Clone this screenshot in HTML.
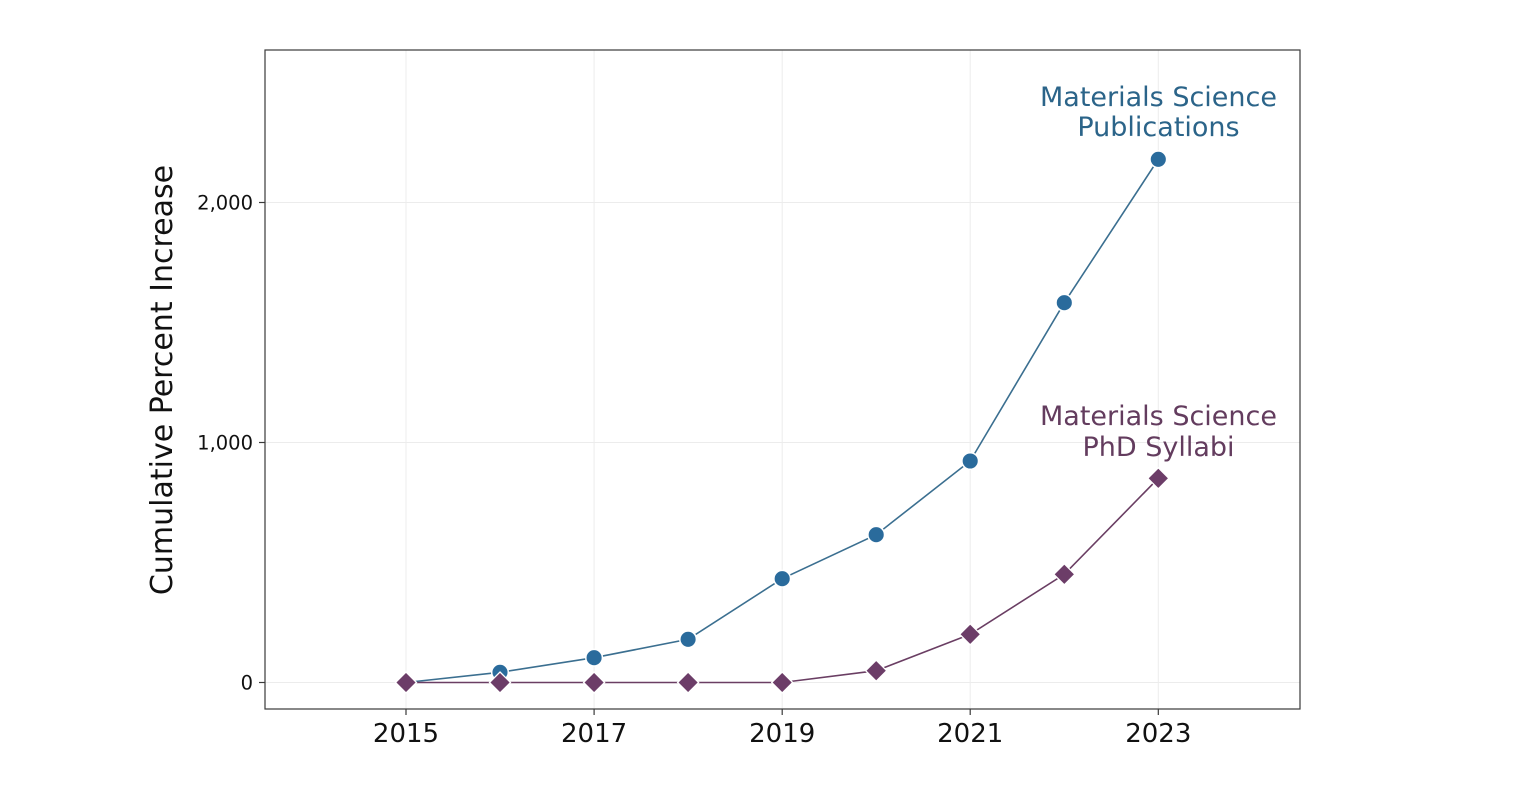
<!DOCTYPE html>
<html><head><meta charset="utf-8"><style>
html,body{margin:0;padding:0;background:#fff;}
svg{display:block;font-family:"DejaVu Sans","Liberation Sans",sans-serif;}
</style></head><body>
<svg width="1538" height="790" viewBox="0 0 1538 790" xmlns="http://www.w3.org/2000/svg">
<rect width="1538" height="790" fill="#fff"/>
<!-- grid -->
<g stroke="#ececec" stroke-width="1">
<line x1="406" y1="50" x2="406" y2="709"/>
<line x1="594.1" y1="50" x2="594.1" y2="709"/>
<line x1="782.2" y1="50" x2="782.2" y2="709"/>
<line x1="970.2" y1="50" x2="970.2" y2="709"/>
<line x1="1158.3" y1="50" x2="1158.3" y2="709"/>
<line x1="265" y1="682.5" x2="1300" y2="682.5"/>
<line x1="265" y1="442.5" x2="1300" y2="442.5"/>
<line x1="265" y1="202.5" x2="1300" y2="202.5"/>
</g>
<!-- axes box -->
<rect x="265" y="50" width="1035" height="659" fill="none" stroke="#3a3a3a" stroke-width="1.2"/>
<!-- ticks -->
<g stroke="#3a3a3a" stroke-width="1.2">
<line x1="406" y1="709" x2="406" y2="715"/>
<line x1="594.1" y1="709" x2="594.1" y2="715"/>
<line x1="782.2" y1="709" x2="782.2" y2="715"/>
<line x1="970.2" y1="709" x2="970.2" y2="715"/>
<line x1="1158.3" y1="709" x2="1158.3" y2="715"/>
<line x1="259" y1="682.5" x2="265" y2="682.5"/>
<line x1="259" y1="442.5" x2="265" y2="442.5"/>
<line x1="259" y1="202.5" x2="265" y2="202.5"/>
</g>
<!-- tick labels -->
<g font-size="26" fill="#111" text-anchor="middle">
<text x="406" y="742">2015</text>
<text x="594.1" y="742">2017</text>
<text x="782.2" y="742">2019</text>
<text x="970.2" y="742">2021</text>
<text x="1158.3" y="742">2023</text>
</g>
<g font-size="19.5" fill="#111" text-anchor="end">
<text x="253" y="689.5">0</text>
<text x="253" y="449.5">1,000</text>
<text x="253" y="209.5">2,000</text>
</g>
<text transform="translate(172,380) rotate(-90)" font-size="30" fill="#111" text-anchor="middle">Cumulative Percent Increase</text>
<!-- blue series -->
<polyline fill="none" stroke="#3b6f90" stroke-width="1.6" points="406,682.5 500,672.3 594.1,657.7 688.1,639.3 782.2,578.7 876.2,534.7 970.2,461 1064.3,302.7 1158.3,159.3"/>
<g fill="#2a6b9c" stroke="#fff" stroke-width="1.5">
<circle cx="406" cy="682.5" r="8.3"/>
<circle cx="500" cy="672.3" r="8.3"/>
<circle cx="594.1" cy="657.7" r="8.3"/>
<circle cx="688.1" cy="639.3" r="8.3"/>
<circle cx="782.2" cy="578.7" r="8.3"/>
<circle cx="876.2" cy="534.7" r="8.3"/>
<circle cx="970.2" cy="461" r="8.3"/>
<circle cx="1064.3" cy="302.7" r="8.3"/>
<circle cx="1158.3" cy="159.3" r="8.3"/>
</g>
<!-- purple series -->
<polyline fill="none" stroke="#6a3e63" stroke-width="1.6" points="406,682.5 500,682.5 594.1,682.5 688.1,682.5 782.2,682.5 876.2,670.7 970.2,634.3 1064.3,574.3 1158.3,478.3"/>
<g fill="#6c3d68" stroke="#fff" stroke-width="1.3">
<polygon points="406,672 416.5,682.5 406,693 395.5,682.5"/>
<polygon points="500,672 510.5,682.5 500,693 489.5,682.5"/>
<polygon points="594.1,672 604.6,682.5 594.1,693 583.6,682.5"/>
<polygon points="688.1,672 698.6,682.5 688.1,693 677.6,682.5"/>
<polygon points="782.2,672 792.7,682.5 782.2,693 771.7,682.5"/>
<polygon points="876.2,660.2 886.7,670.7 876.2,681.2 865.7,670.7"/>
<polygon points="970.2,623.8 980.7,634.3 970.2,644.8 959.7,634.3"/>
<polygon points="1064.3,563.8 1074.8,574.3 1064.3,584.8 1053.8,574.3"/>
<polygon points="1158.3,467.8 1168.8,478.3 1158.3,488.8 1147.8,478.3"/>
</g>
<!-- annotations -->
<g font-size="27" text-anchor="middle">
<text x="1158.5" y="106" fill="#2b6489">Materials Science</text>
<text x="1158.5" y="136" fill="#2b6489">Publications</text>
<text x="1158.5" y="425" fill="#633c5e">Materials Science</text>
<text x="1158.5" y="456" fill="#633c5e">PhD Syllabi</text>
</g>
</svg>
</body></html>
